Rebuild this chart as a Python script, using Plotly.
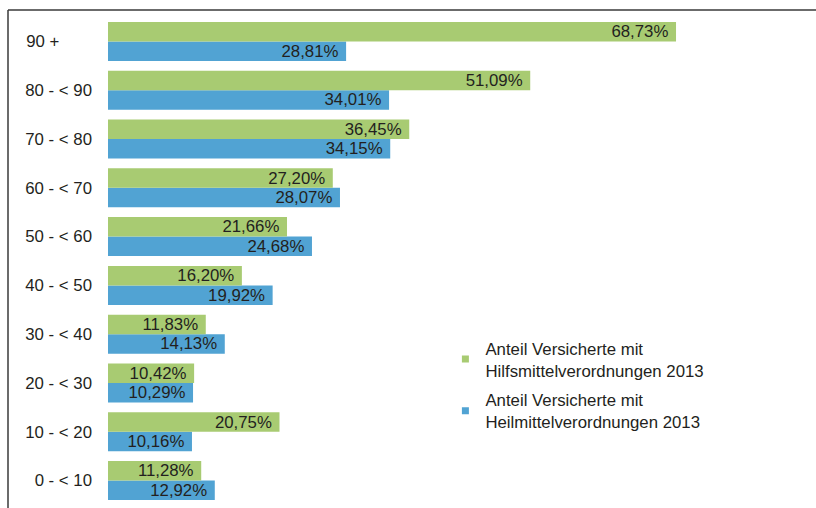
import plotly.graph_objects as go

categories = ["0 - < 10", "10 - < 20", "20 - < 30", "30 - < 40", "40 - < 50",
              "50 - < 60", "60 - < 70", "70 - < 80", "80 - < 90", "90 +"]
tick_labels = ["0 - < 10", "10 - < 20", "20 - < 30", "30 - < 40", "40 - < 50",
               "50 - < 60", "60 - < 70", "70 - < 80", "80 - < 90",
               "90 +\u00a0\u00a0\u00a0\u00a0\u00a0\u00a0\u00a0"]
hilfsmittel = [11.28, 20.75, 10.42, 11.83, 16.20, 21.66, 27.20, 36.45, 51.09, 68.73]
heilmittel = [12.92, 10.16, 10.29, 14.13, 19.92, 24.68, 28.07, 34.15, 34.01, 28.81]

name_hilfs = "Anteil Versicherte mit<br>Hilfsmittelverordnungen 2013"
name_heil = "Anteil Versicherte mit<br>Heilmittelverordnungen 2013"

GREEN = "#A8CB72"
BLUE = "#51A3D3"
TXT = "#231F20"
FONT = "Liberation Sans, Arial, sans-serif"
FS = 16.8

fig = go.Figure()
# Blue first -> lower position within each group
for vals, col in ((heilmittel, BLUE), (hilfsmittel, GREEN)):
    fig.add_trace(go.Bar(
        y=categories, x=vals, orientation="h", marker_color=col,
        marker_line_width=0, texttemplate="%{x:.2f}%\u00a0", textposition="inside",
        insidetextanchor="end", textangle=0, constraintext="none",
        insidetextfont=dict(color=TXT, size=FS, family=FONT), showlegend=False))

# legend-only entries
fig.add_trace(go.Scatter(x=[None], y=[None], mode="markers", name=name_hilfs,
                         legendgroup="a", legendrank=1,
                         marker=dict(symbol="square", size=7, color=GREEN)))
fig.add_trace(go.Scatter(x=[None], y=[None], mode="markers", name=name_heil,
                         legendgroup="b", legendrank=2,
                         marker=dict(symbol="square", size=7, color=BLUE)))

fig.update_layout(
    width=816, height=508,
    margin=dict(l=108, r=8, t=17, b=3),
    paper_bgcolor="white", plot_bgcolor="white",
    separators=",.",
    barmode="group", bargap=0.2, bargroupgap=0,
    font=dict(family=FONT, size=FS, color=TXT),
    xaxis=dict(range=[0, 84.7], showgrid=False, zeroline=False,
               showticklabels=False, showline=False, ticks=""),
    yaxis=dict(categoryorder="array", categoryarray=categories,
               tickmode="array", tickvals=categories, ticktext=tick_labels,
               showgrid=False, zeroline=False, showline=False, ticks="",
               ticklabelstandoff=15, tickfont=dict(size=FS, color=TXT, family=FONT)),
    legend=dict(x=0.482, y=0.357, xanchor="left", yanchor="top",
                traceorder="grouped", tracegroupgap=5,
                font=dict(size=FS, color=TXT, family=FONT),
                bgcolor="rgba(0,0,0,0)", itemwidth=30),
    shapes=[
        dict(type="line", xref="paper", yref="paper",
             x0=-100/700, x1=1.2, y0=(505-10)/488, y1=(505-10)/488,
             line=dict(color="#3a3a3a", width=1.5)),
        dict(type="line", xref="paper", yref="paper",
             x0=-100/700, x1=-100/700, y0=(505-10)/488, y1=-0.1,
             line=dict(color="#3a3a3a", width=1.5)),
    ],
)

fig.write_html("out.html", config={"displayModeBar": False},
               post_script="document.body.style.margin='0';document.body.style.padding='0';")
